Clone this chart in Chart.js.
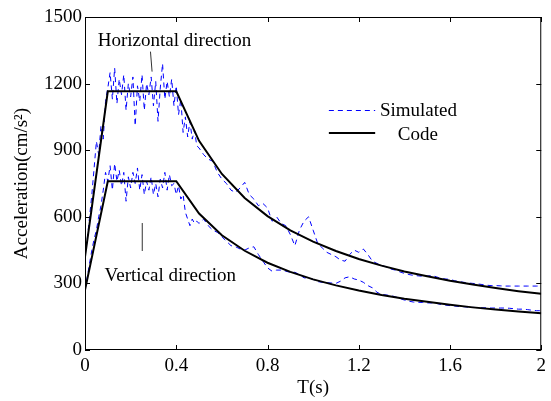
<!DOCTYPE html>
<html>
<head>
<meta charset="utf-8">
<script src="https://cdn.jsdelivr.net/npm/chart.js@4/dist/chart.umd.min.js"></script>
<style>
  html, body { margin: 0; padding: 0; background: #fff; }
  #wrap { width: 551px; height: 401px; }
</style>
</head>
<body>
<div id="wrap"><canvas id="chart" width="551" height="401"></canvas></div>
<script>
// periods (s) of the code spectrum corners and samples
const codeT = [0, 0.1, 0.4, 0.5, 0.6, 0.7, 0.8, 0.9, 1.0, 1.1, 1.2, 1.3, 1.4, 1.5, 1.6, 1.7, 1.8, 1.9, 2.0];
const codeH = [420, 1165, 1165, 942, 793, 685, 603, 539, 488, 446, 410, 380, 354, 332, 312, 295, 279, 265, 253];
const codeV = [270, 760, 760, 615, 517, 447, 393, 352, 318, 291, 268, 248, 231, 217, 204, 192, 182, 173, 165];

// simulated spectra: 0..0.5 s every 0.01 s, then 0.52..2.0 s every 0.02 s
const simT = [];
for (let i = 0; i <= 50; i++) simT.push(i / 100);
for (let i = 26; i <= 100; i++) simT.push(i / 50);

const simH = [
  420, 500, 600, 700, 820, 940, 880, 1010, 950, 1120,
  1180, 1250, 1130, 1270, 1110, 1220, 1150, 1240, 1080, 1200,
  1140, 1230, 1010, 1190, 1120, 1240, 1080, 1200, 1150, 1230,
  1100, 1210, 1030, 1180, 1290, 1130, 1210, 1140, 1220, 1100,
  1190, 1060, 1130, 980, 1050, 960, 1030, 950, 990, 920,
  910,
  880, 860, 850, 800, 770, 750, 720, 710, 730, 755,
  700, 680, 650, 660, 640, 580, 600, 570, 560, 520,
  470, 540, 580, 600, 540, 480, 460, 440, 430, 420,
  405, 400, 430, 450, 440, 455, 430, 400, 390, 380,
  375, 365, 360, 352, 345, 340, 336, 334, 332, 333,
  335, 330, 322, 320, 318, 312, 308, 305, 302, 300,
  298, 295, 292, 290, 290, 289, 288, 288, 288, 288,
  288, 288, 288, 288, 288
];
const simV = [
  270, 330, 390, 450, 500, 540, 600, 650, 720, 800,
  760, 830, 720, 840, 760, 810, 740, 800, 670, 780,
  730, 800, 750, 820, 720, 790, 700, 760, 720, 780,
  700, 750, 690, 770, 730, 800, 720, 790, 740, 750,
  700, 740, 680, 700, 620, 590, 560, 590, 570, 580,
  570,
  590, 560, 540, 530, 510, 490, 470, 465, 455, 450,
  460, 465, 430, 400, 370, 355, 360, 360, 355, 350,
  350, 340, 325, 325, 318, 308, 305, 303, 302, 300,
  310, 325, 330, 320, 315, 305, 290, 280, 260, 250,
  248, 245, 240, 232, 225, 220, 216, 215, 214, 212,
  212, 210, 205, 202, 200, 198, 196, 195, 193, 192,
  191, 190, 190, 189, 189, 189, 189, 188, 186, 184,
  184, 182, 179, 177, 177
];

const xTickLabels = ['0', '0.4', '0.8', '1.2', '1.6', '2'];
const FONT = '"Liberation Serif", serif';

function pts(xs, ys) {
  return xs.map((x, i) => ({ x: x, y: ys[i] }));
}

// box, inward ticks, annotations and legend, placed through the scales
const overlay = {
  id: 'overlay',
  afterDraw(chart) {
    const { ctx, chartArea: a, scales: { x, y } } = chart;
    const px = v => x.getPixelForValue(v);
    const py = v => y.getPixelForValue(v);
    ctx.save();
    ctx.strokeStyle = '#000';
    ctx.lineWidth = 1;
    ctx.strokeRect(a.left + 0.5, a.top + 0.5, a.right - a.left - 1, a.bottom - a.top - 1);
    const tl = 5;
    ctx.beginPath();
    x.ticks.forEach(t => {
      const xx = Math.round(px(t.value)) + 0.5;
      ctx.moveTo(xx, a.bottom); ctx.lineTo(xx, a.bottom - tl);
      ctx.moveTo(xx, a.top); ctx.lineTo(xx, a.top + tl);
    });
    y.ticks.forEach(t => {
      const yy = Math.round(py(t.value)) + 0.5;
      ctx.moveTo(a.left, yy); ctx.lineTo(a.left + tl, yy);
      ctx.moveTo(a.right, yy); ctx.lineTo(a.right - tl, yy);
    });
    ctx.stroke();

    // annotations
    ctx.fillStyle = '#000';
    ctx.font = '19px ' + FONT;
    ctx.textBaseline = 'alphabetic';
    ctx.textAlign = 'left';
    ctx.fillText('Horizontal direction', px(0.056), py(1369));
    ctx.fillText('Vertical direction', px(0.086), py(311));
    ctx.strokeStyle = '#333';
    ctx.beginPath();
    ctx.moveTo(px(0.287), py(1344)); ctx.lineTo(px(0.294), py(1254));
    ctx.moveTo(px(0.251), py(572)); ctx.lineTo(px(0.251), py(446));
    ctx.stroke();

    // legend
    ctx.strokeStyle = '#0000ff';
    ctx.lineWidth = 1;
    ctx.setLineDash([5, 4]);
    ctx.beginPath();
    ctx.moveTo(px(1.069), Math.round(py(1081)) + 0.5);
    ctx.lineTo(px(1.272), Math.round(py(1081)) + 0.5);
    ctx.stroke();
    ctx.setLineDash([]);
    ctx.strokeStyle = '#000';
    ctx.lineWidth = 2;
    ctx.beginPath();
    ctx.moveTo(px(1.069), py(977));
    ctx.lineTo(px(1.272), py(977));
    ctx.stroke();
    ctx.fillText('Simulated', px(1.293), py(1054));
    ctx.fillText('Code', px(1.371), py(946));
    ctx.restore();
  }
};

new Chart(document.getElementById('chart'), {
  type: 'line',
  data: {
    datasets: [
      { label: 'Code H', data: pts(codeT, codeH), borderColor: '#000', borderWidth: 2 },
      { label: 'Code V', data: pts(codeT, codeV), borderColor: '#000', borderWidth: 2 },
      { label: 'Simulated H', data: pts(simT, simH), borderColor: '#0000ff', borderWidth: 1, borderDash: [5, 4] },
      { label: 'Simulated V', data: pts(simT, simV), borderColor: '#0000ff', borderWidth: 1, borderDash: [5, 4] }
    ]
  },
  options: {
    responsive: false,
    animation: false,
    layout: { padding: { top: 17, right: 2, left: 0, bottom: 0 } },
    elements: { point: { radius: 0 }, line: { tension: 0, fill: false } },
    plugins: { legend: { display: false }, tooltip: { enabled: false } },
    scales: {
      x: {
        type: 'linear', min: 0, max: 2,
        grid: { display: false, drawTicks: false },
        border: { display: false },
        ticks: {
          stepSize: 0.4, padding: 5, color: '#000', maxRotation: 0,
          font: { family: FONT, size: 19 },
          callback: (v, i) => xTickLabels[i]
        },
        title: { display: true, text: 'T(s)', color: '#000', font: { family: FONT, size: 19 }, padding: { top: 0, bottom: 2 } },
        afterFit: s => { s.height = 51; }
      },
      y: {
        type: 'linear', min: 0, max: 1500,
        grid: { display: false, drawTicks: false },
        border: { display: false },
        ticks: { stepSize: 300, padding: 3, color: '#000', font: { family: FONT, size: 19 }, callback: v => String(v) },
        title: { display: true, text: 'Acceleration(cm/s²)', color: '#000', font: { family: FONT, size: 19 }, padding: { top: 11, bottom: 0 } },
        afterFit: s => { s.width = 85; }
      }
    }
  },
  plugins: [overlay]
});
</script>
</body>
</html>
